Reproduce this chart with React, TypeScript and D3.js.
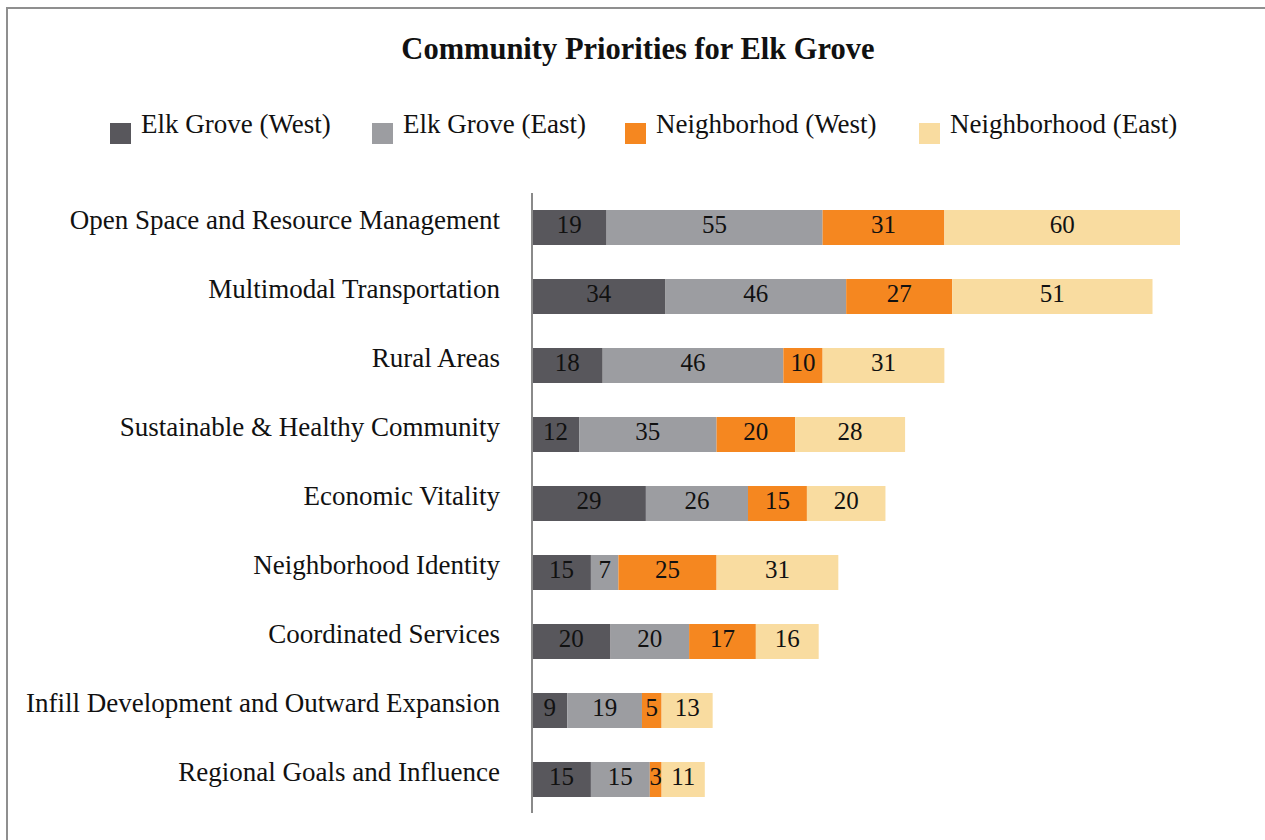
import React from "react";
import * as d3 from "d3";

const categories = [
  "Open Space and Resource Management",
  "Multimodal Transportation",
  "Rural Areas",
  "Sustainable & Healthy Community",
  "Economic Vitality",
  "Neighborhood Identity",
  "Coordinated Services",
  "Infill Development and Outward Expansion",
  "Regional Goals and Influence",
];

const seriesNames = ["Elk Grove (West)", "Elk Grove (East)", "Neighborhod (West)", "Neighborhood (East)"];
const elkWest = [19, 34, 18, 12, 29, 15, 20, 9, 15];
const elkEast = [55, 46, 46, 35, 26, 7, 20, 19, 15];
const nbhdWest = [31, 27, 10, 20, 15, 25, 17, 5, 3];
const nbhdEast = [60, 51, 31, 28, 20, 31, 16, 13, 11];
const colors = ["#58575c", "#9c9da1", "#f58720", "#f9dca0"];
const title = "Community Priorities for Elk Grove";

const W = 1265;
const H = 840;
const FONT = "'Liberation Serif', 'DejaVu Serif', serif";

export default function App() {
  const seriesValues = [elkWest, elkEast, nbhdWest, nbhdEast];
  const rows = categories.map((c, i) => {
    const r: any = { category: c };
    seriesNames.forEach((s, k) => (r[s] = seriesValues[k][i]));
    return r;
  });
  const stack = d3.stack<any>().keys(seriesNames)(rows);
  const maxTotal = d3.max(rows, (r: any) => seriesNames.reduce((a, s) => a + r[s], 0)) as number;

  const x = d3.scaleLinear().domain([0, maxTotal]).range([532, 1180]);
  const y = d3
    .scaleBand<string>()
    .domain(categories)
    .range([193, 814])
    .paddingInner(0.493)
    .paddingOuter(0.2465);

  const legendX = [110, 372, 625, 919];

  return (
    <div style={{ position: "absolute", left: 0, top: 0, width: W, height: H, overflow: "hidden" }}>
      <svg width={W} height={H} style={{ display: "block", background: "#fff" }}>
        <rect x={7} y={8} width={1400} height={1000} fill="#fff" stroke="#8f8f8f" strokeWidth={2} />
        <text
          x={638}
          y={59}
          textAnchor="middle"
          fontFamily={FONT}
          fontWeight="bold"
          fontSize={30.5}
          fill="#111"
        >
          {title}
        </text>
        {seriesNames.map((s, k) => (
          <g key={s}>
            <rect x={legendX[k]} y={123} width={21} height={21} fill={colors[k]} />
            <text x={legendX[k] + 31} y={133} fontFamily={FONT} fontSize={27} fill="#111">
              {s}
            </text>
          </g>
        ))}
        {categories.map((c) => (
          <text
            key={c}
            x={500}
            y={(y(c) as number) + y.bandwidth() / 2 + 1.5}
            textAnchor="end"
            fontFamily={FONT}
            fontSize={27}
            fill="#111"
          >
            {c}
          </text>
        ))}
        {stack.map((layer, k) => (
          <g key={layer.key}>
            {layer.map((d, i) => {
              const x0 = x(d[0]);
              const x1 = x(d[1]);
              const yy = y(categories[i]) as number;
              return (
                <g key={i}>
                  <rect x={x0} y={yy} width={x1 - x0} height={y.bandwidth()} fill={colors[k]} />
                  <text
                    x={(x0 + x1) / 2}
                    y={yy + y.bandwidth() / 2 + 5.5}
                    textAnchor="middle"
                    fontFamily={FONT}
                    fontSize={25}
                    fill="#111"
                  >
                    {d[1] - d[0]}
                  </text>
                </g>
              );
            })}
          </g>
        ))}
        <line x1={532} x2={532} y1={193} y2={813} stroke="#8a8a8a" strokeWidth={2} />
      </svg>
    </div>
  );
}
